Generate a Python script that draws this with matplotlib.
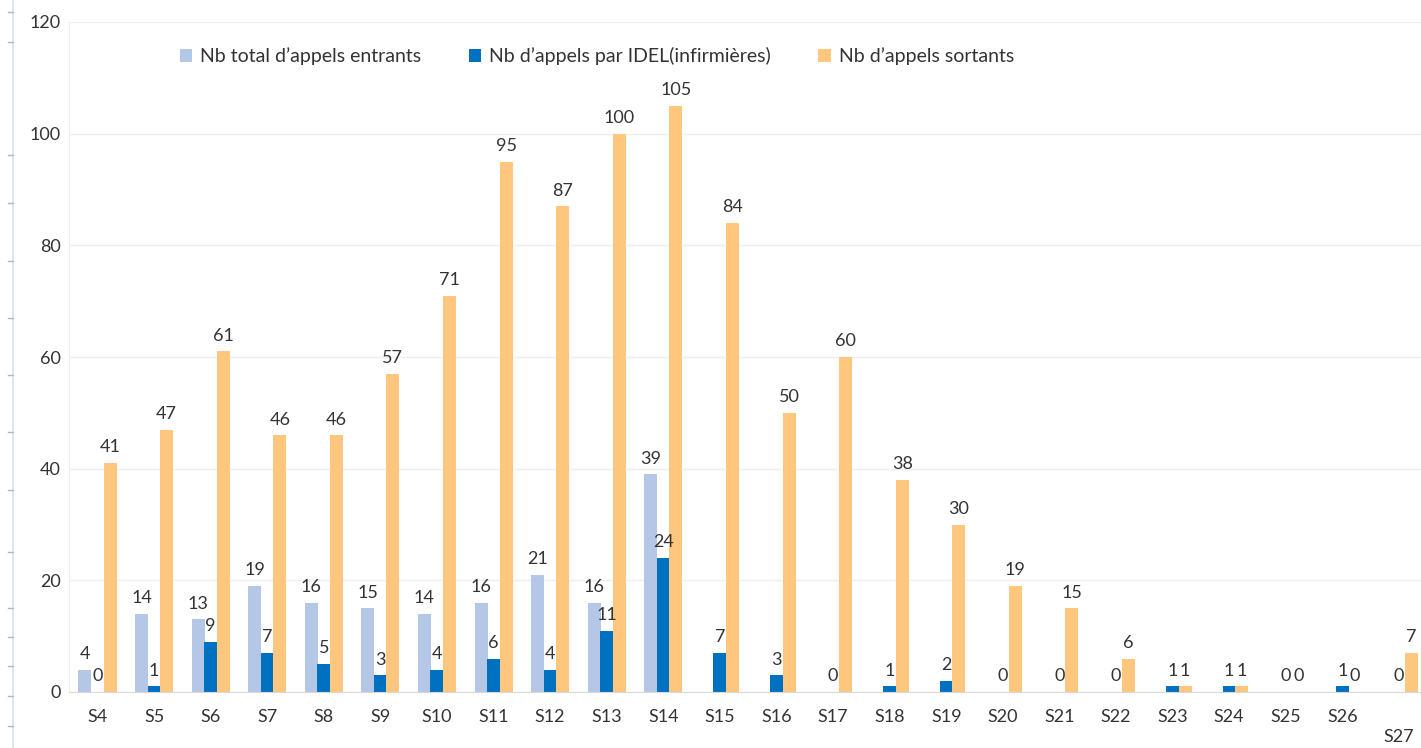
import matplotlib
matplotlib.use('Agg')  # no display
import matplotlib.pyplot as plt
import numpy as np
from matplotlib.lines import Line2D

plt.rcParams['font.family'] = ['Lato', 'DejaVu Sans']

# Data
weeks = ['S4', 'S5', 'S6', 'S7', 'S8', 'S9', 'S10', 'S11', 'S12', 'S13', 'S14', 'S15',
         'S16', 'S17', 'S18', 'S19', 'S20', 'S21', 'S22', 'S23', 'S24', 'S25', 'S26', 'S27']
total_entrants = [4, 14, 13, 19, 16, 15, 14, 16, 21, 16, 39,
                  None, None, None, None, None, None, None, None, None, None, None, None, None]
appels_idel = [0, 1, 9, 7, 5, 3, 4, 6, 4, 11, 24, 7, 3, 0, 1, 2, 0, 0, 0, 1, 1, 0, 1, 0]
appels_sortants = [41, 47, 61, 46, 46, 57, 71, 95, 87, 100, 105, 84,
                   50, 60, 38, 30, 19, 15, 6, 1, 1, 0, 0, 7]

series_names = ['Nb total d\u2019appels entrants',
                'Nb d\u2019appels par IDEL(infirmi\u00e8res)',
                'Nb d\u2019appels sortants']
colors = ['#B4C7E7', '#0070C0', '#FFC77D']
text_color = '#333333'

W, H = 1421, 748
fig = plt.figure(figsize=(W / 100, H / 100), dpi=100)
ax = fig.add_axes([69.2 / W, 56 / H, 1358 / W, 670 / H])

x = np.arange(len(weeks))
w = 0.23
all_series = [total_entrants, appels_idel, appels_sortants]
for i, (vals, name, col) in enumerate(zip(all_series, series_names, colors)):
    v = np.array([np.nan if a is None else a for a in vals], dtype=float)
    bars = ax.bar(x + (i - 1) * 0.222, v, w, color=col, label=name, zorder=2)
    # value labels on bars
    for rect, val in zip(bars, v):
        if np.isnan(val):
            continue
        ax.annotate(f'{int(val)}', (rect.get_x() + rect.get_width() / 2, val),
                    xytext=(0, 5.5), textcoords='offset points',
                    ha='center', va='bottom', fontsize=13, color=text_color)

ax.set_xlim(-0.5, len(weeks) - 0.5)
ax.set_ylim(0, 120)
ax.set_yticks(range(0, 121, 20))
ax.set_xticks(x)
ax.set_xticklabels(weeks)
ax.tick_params(axis='both', length=0, labelsize=13, labelcolor=text_color)
ax.tick_params(axis='x', pad=12)
ax.tick_params(axis='y', pad=6)
ax.xaxis.get_major_ticks()[-1].set_pad(27)

ax.yaxis.grid(True, color='#EFEFEF', lw=1)
ax.set_axisbelow(True)
for s in ['top', 'right']:
    ax.spines[s].set_visible(False)
ax.spines['left'].set_color('#EEEEEE')
ax.spines['bottom'].set_color('#D9D9D9')

fig.legend(loc='center left', bbox_to_anchor=(162 / W, 1 - 56 / H), ncol=3,
           frameon=False, handlelength=0.65, handleheight=0.65, handletextpad=0.4,
           columnspacing=2.45, fontsize=14, labelcolor=text_color)

# thin ruler line on the far left of the screenshot
ruler_ticks_px = [12, 42, 155, 203, 261, 318, 375, 432, 490, 552, 608, 637, 666, 696, 726]
fig.add_artist(Line2D([12.5 / W] * 2, [0, 1], color='#DCE6F0', lw=1.5))
for ty in ruler_ticks_px:
    fig.add_artist(Line2D([8 / W, 12.5 / W], [1 - ty / H] * 2, color='#B8B8B8', lw=1))

plt.savefig('out.png', dpi=100)
plt.close()
